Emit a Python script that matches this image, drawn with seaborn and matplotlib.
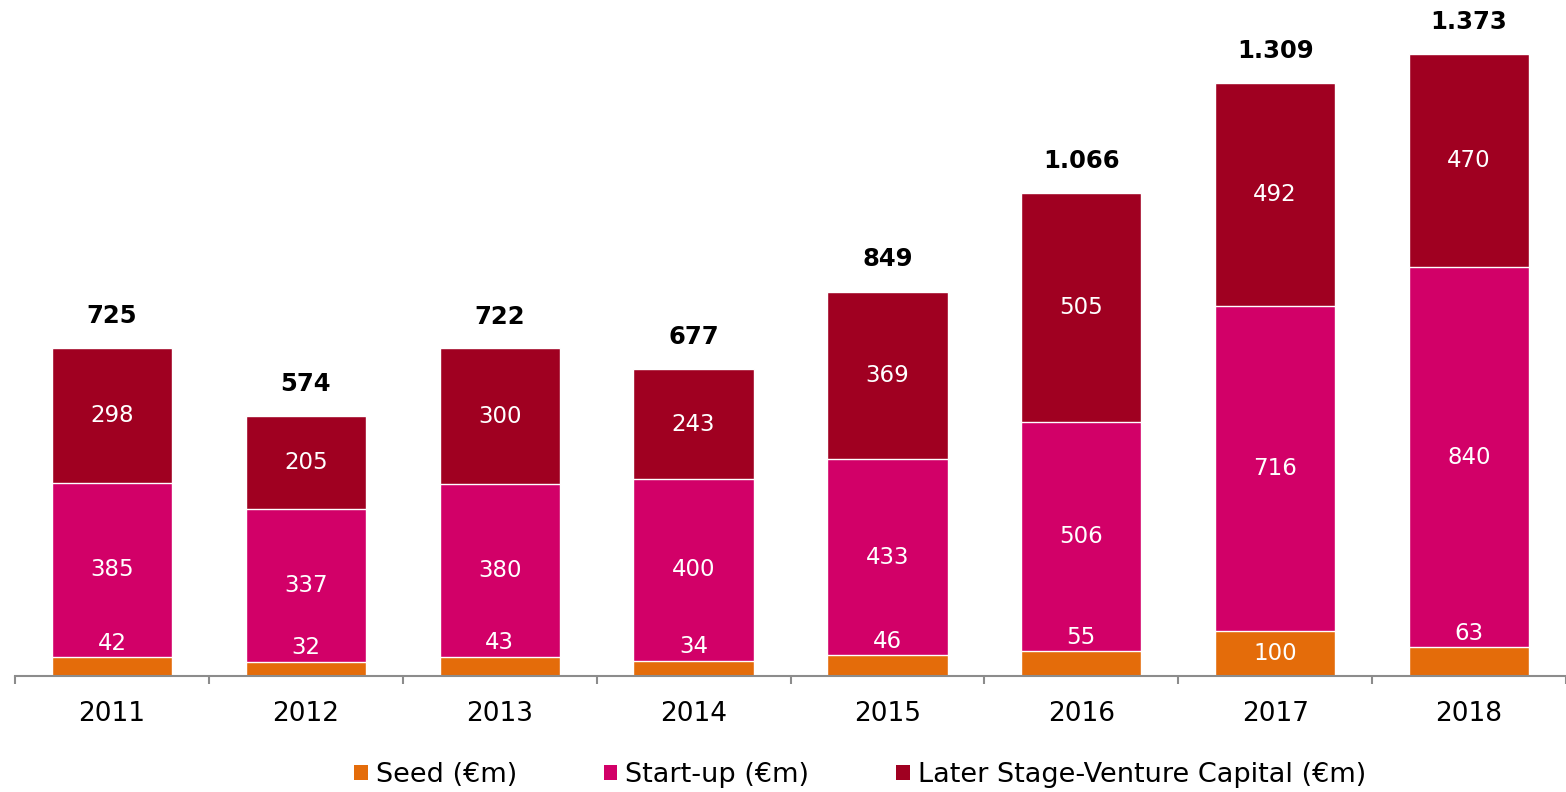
import matplotlib
matplotlib.use("Agg")
import matplotlib.pyplot as plt
import seaborn as sns
import pandas as pd
import numpy as np
from matplotlib.patches import Patch

years = ["2011", "2012", "2013", "2014", "2015", "2016", "2017", "2018"]
seed = [42, 32, 43, 34, 46, 55, 100, 63]
startup = [385, 337, 380, 400, 433, 506, 716, 840]
later = [298, 205, 300, 243, 369, 505, 492, 470]
totals = [725, 574, 722, 677, 849, 1066, 1309, 1373]
total_labels = ["725", "574", "722", "677", "849", "1.066", "1.309", "1.373"]
series_names = ["Seed (€m)", "Start-up (€m)", "Later Stage-Venture Capital (€m)"]
colors = ["#E46C0A", "#D20068", "#A00021"]

sns.set_theme(style="white")
plt.rcParams['font.family'] = ['DejaVu Sans']

df = pd.DataFrame({"year": years, "seed": seed, "startup": startup, "later": later})
df["cum1"] = df["seed"]
df["cum2"] = df["seed"] + df["startup"]
df["cum3"] = df["cum2"] + df["later"]

fig = plt.figure(figsize=(15.66, 7.92), dpi=100)
ax = fig.add_axes([15/1566, (792-676)/792, 1 - 15/1566, 676/792])

bw = 0.62
sns.barplot(data=df, x="year", y="cum3", order=years, color=colors[2], width=bw,
            edgecolor="white", linewidth=1, saturation=1, ax=ax)
sns.barplot(data=df, x="year", y="cum2", order=years, color=colors[1], width=bw,
            edgecolor="white", linewidth=1, saturation=1, ax=ax)
sns.barplot(data=df, x="year", y="cum1", order=years, color=colors[0], width=bw,
            edgecolor="white", linewidth=1, saturation=1, ax=ax)

ax.set_xlim(-0.5, 7.5)
ax.set_ylim(0, 1492)

lab_fs = 16.5
for i in range(len(years)):
    s, su, la = seed[i], startup[i], later[i]
    if s < 80:
        ax.annotate(str(s), (i, s), xytext=(0, 10), textcoords="offset points",
                    ha="center", va="center", color="white", fontsize=lab_fs)
    else:
        ax.text(i, s / 2, str(s), ha="center", va="center", color="white", fontsize=lab_fs)
    ax.text(i, s + su / 2, str(su), ha="center", va="center", color="white", fontsize=lab_fs)
    ax.text(i, s + su + la / 2, str(la), ha="center", va="center", color="white", fontsize=lab_fs)
    ax.annotate(total_labels[i], (i, totals[i]), xytext=(0, 23), textcoords="offset points",
                ha="center", va="center", color="black", fontsize=17.5, fontweight="bold")

for sp in ["top", "right", "left"]:
    ax.spines[sp].set_visible(False)
ax.spines["bottom"].set_color("#8C8C8C")
ax.spines["bottom"].set_linewidth(1.5)
ax.set_yticks([])
ax.set_xlabel("")
ax.set_ylabel("")
ax.set_xticks(np.arange(-0.5, 8, 1), minor=True)
ax.tick_params(axis="x", which="minor", direction="out", length=6, width=1.5,
               color="#8C8C8C", bottom=True)
ax.tick_params(axis="x", which="major", length=0, pad=18, labelsize=19, labelcolor="black")

handles = [Patch(facecolor=c, edgecolor="none") for c in colors]
leg = fig.legend(handles, series_names, loc="center", bbox_to_anchor=(860/1566, 17/792),
                 ncol=3, frameon=False, fontsize=19.5, handlelength=0.5, handleheight=0.5,
                 handletextpad=0.3, columnspacing=3.2)
for t in leg.get_texts():
    t.set_color("black")

fig.savefig("out.png", dpi=100)
